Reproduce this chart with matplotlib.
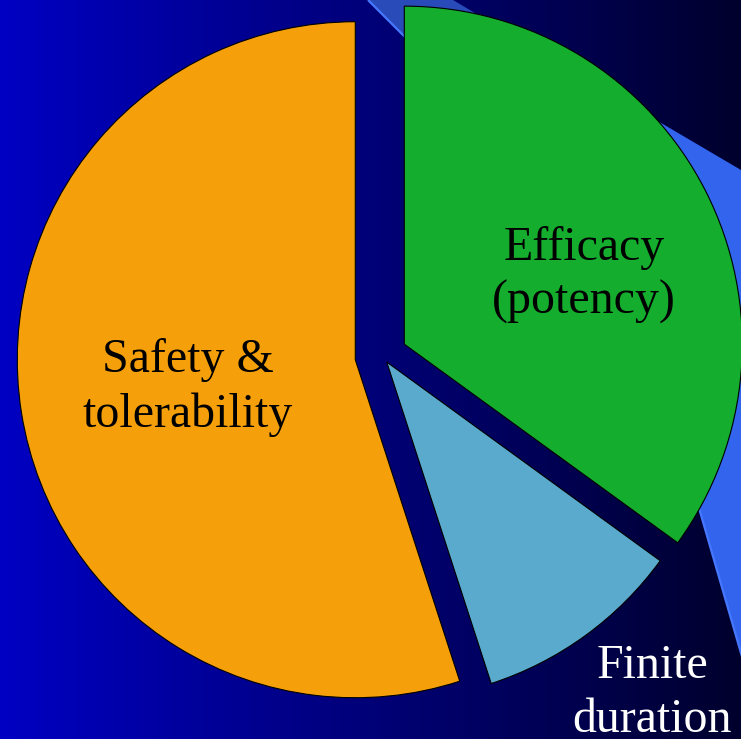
import numpy as np
import matplotlib
matplotlib.use("Agg")
import matplotlib.pyplot as plt
from matplotlib.patches import Polygon

# Slice data (clockwise from 12 o'clock)
labels = ["Efficacy\n(potency)", "Finite\nduration", "Safety &\ntolerability"]
shares = [35, 10, 55]
explode = [0.074, 0.024, 0.08]          # as a fraction of the radius
colors = ["#14ad2d", "#5aaacd", "#f5a00a"]
text_colors = ["black", "white", "black"]

W, H = 741, 739
fig = plt.figure(figsize=(W / 100, H / 100), dpi=100)

# --- slide background: horizontal blue gradient plus a lighter decorative band
bg = fig.add_axes([0, 0, 1, 1])
bg.set_xlim(0, W)
bg.set_ylim(H, 0)
bg.axis("off")
left = np.array([0, 0, 195]) / 255
right = np.array([0, 0, 45]) / 255
t = np.linspace(0, 1, 512)[None, :, None]
grad = left * (1 - t) + right * t
bg.imshow(grad, extent=(0, W, H, 0), aspect="auto", interpolation="bilinear", zorder=0)

top_face = Polygon([(368, 0), (453, 0), (522, 41), (420, 52)], closed=True,
                   facecolor=(40 / 255, 75 / 255, 185 / 255), edgecolor="none", zorder=1)
side_face = Polygon([(520, 40), (W, 170), (W, 653), (699, 508), (600, 250), (450, 100)],
                    closed=True, facecolor=(50 / 255, 100 / 255, 238 / 255),
                    edgecolor="none", zorder=1)
bg.add_patch(top_face)
bg.add_patch(side_face)
bg.plot([368, 420], [0, 52], color=(70 / 255, 120 / 255, 1.0), lw=1.6, zorder=2,
        solid_capstyle="butt")
bg.plot([699, W + 2], [508, 653 + 7], color=(70 / 255, 120 / 255, 1.0), lw=1.6, zorder=2,
        solid_capstyle="butt")

# --- the pie itself, drawn in pixel-sized data units
ax = fig.add_axes([0, 0, 1, 1])
ax.patch.set_alpha(0)
cx, cy, r = 382, H - 355.5, 338
wedges, _ = ax.pie(shares, explode=[e * r for e in explode], colors=colors,
                   startangle=90, counterclock=False, radius=r, center=(cx, cy),
                   wedgeprops=dict(edgecolor="black", linewidth=0.8))
ax.set_xlim(0, W)
ax.set_ylim(0, H)
ax.set_aspect("equal")
ax.axis("off")

font = dict(family=["Liberation Serif", "DejaVu Serif"], fontsize=34.5,
            ha="center", va="baseline", linespacing=1.3)
label_pos = [(584, H - 314), (652, H - 732), (188, H - 427)]
for lab, (x, y), tc in zip(labels, label_pos, text_colors):
    ax.text(x, y, lab, color=tc, multialignment="center", **font)

fig.savefig("out.png", dpi=100)
